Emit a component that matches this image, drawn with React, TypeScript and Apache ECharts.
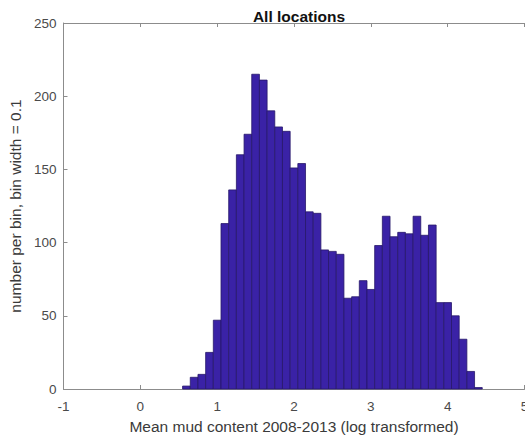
import React, { useEffect, useRef } from "react";
import * as echarts from "echarts";

const binCenters = [
  0.6, 0.7, 0.8, 0.9, 1.0, 1.1, 1.2, 1.3, 1.4, 1.5, 1.6, 1.7, 1.8, 1.9,
  2.0, 2.1, 2.2, 2.3, 2.4, 2.5, 2.6, 2.7, 2.8, 2.9, 3.0, 3.1, 3.2, 3.3,
  3.4, 3.5, 3.6, 3.7, 3.8, 3.9, 4.0, 4.1, 4.2, 4.3, 4.4,
];
const binCounts = [
  2, 8, 10, 25, 47, 113, 136, 160, 174, 215, 211, 190, 179, 176,
  151, 154, 121, 120, 95, 94, 92, 62, 63, 74, 68, 98, 118, 104,
  107, 106, 118, 105, 112, 59, 59, 50, 34, 12, 1,
];
const binWidth = 0.1;
const xTicks = [-1, 0, 1, 2, 3, 4, 5];
const yTicks = [0, 50, 100, 150, 200, 250];

const titleText = "All locations";
const xName = "Mean mud content 2008-2013 (log transformed)";
const yName = "number per bin, bin width = 0.1";

const FONT = "'Liberation Sans', Arial, Helvetica, sans-serif";
const AXIS_COLOR = "#8c8c8c";
const TEXT_COLOR = "#4a4a4a";

export default function App() {
  const ref = useRef<HTMLDivElement>(null);
  useEffect(() => {
    if (!ref.current) return;
    const chart = echarts.init(ref.current, null, { renderer: "svg" });
    const data = binCenters.map((c, i) => [c, binCounts[i]]);
    const axisCommon = {
      type: "value" as const,
      axisLine: { show: true, onZero: false, lineStyle: { color: AXIS_COLOR, width: 1 } },
      axisTick: { show: true, inside: true, length: 4, lineStyle: { color: AXIS_COLOR } },
      splitLine: { show: false },
    };
    chart.setOption({
      animation: false,
      backgroundColor: "#ffffff",
      textStyle: { fontFamily: FONT },
      title: {
        text: titleText,
        left: 294,
        top: 3,
        textAlign: "center",
        textStyle: { fontFamily: FONT, fontSize: 15.5, fontWeight: "bold", color: "#111" },
      },
      grid: {
        left: 63.5,
        right: 0.5,
        top: 23,
        bottom: 48,
        containLabel: false,
        outerBoundsMode: "none",
      },
      xAxis: [
        {
          ...axisCommon,
          position: "bottom",
          min: xTicks[0],
          max: xTicks[xTicks.length - 1],
          interval: 1,
          axisLabel: { color: TEXT_COLOR, fontSize: 13.5, margin: 10, fontFamily: FONT },
          name: xName,
          nameLocation: "middle",
          nameGap: 29,
          nameTextStyle: { color: "#3a3a3a", fontSize: 15.5, fontFamily: FONT },
        },
        {
          ...axisCommon,
          position: "top",
          min: xTicks[0],
          max: xTicks[xTicks.length - 1],
          interval: 1,
          axisLabel: { show: false },
        },
      ],
      yAxis: [
        {
          ...axisCommon,
          position: "left",
          min: yTicks[0],
          max: yTicks[yTicks.length - 1],
          interval: 50,
          axisLabel: { color: TEXT_COLOR, fontSize: 13.5, margin: 7, fontFamily: FONT },
          name: yName,
          nameLocation: "middle",
          nameGap: 33,
          nameTextStyle: { color: "#3a3a3a", fontSize: 15.5, fontFamily: FONT },
        },
      ],
      series: [
        {
          type: "custom",
          xAxisIndex: 0,
          yAxisIndex: 0,
          encode: { x: 0, y: 1 },
          data,
          renderItem: (params: any, api: any) => {
            const c = api.value(0);
            const v = api.value(1);
            const p0 = api.coord([c - binWidth / 2, v]);
            const p1 = api.coord([c + binWidth / 2, 0]);
            return {
              type: "rect",
              shape: { x: p0[0], y: p0[1], width: p1[0] - p0[0], height: p1[1] - p0[1] },
              style: { fill: "#3a22a6", stroke: "#27186a", lineWidth: 0.8 },
            };
          },
        },
      ],
    });
    return () => chart.dispose();
  }, []);
  return (
    <div
      ref={ref}
      style={{ position: "fixed", left: 0, top: 0, width: 525, height: 437, background: "#fff" }}
    />
  );
}
